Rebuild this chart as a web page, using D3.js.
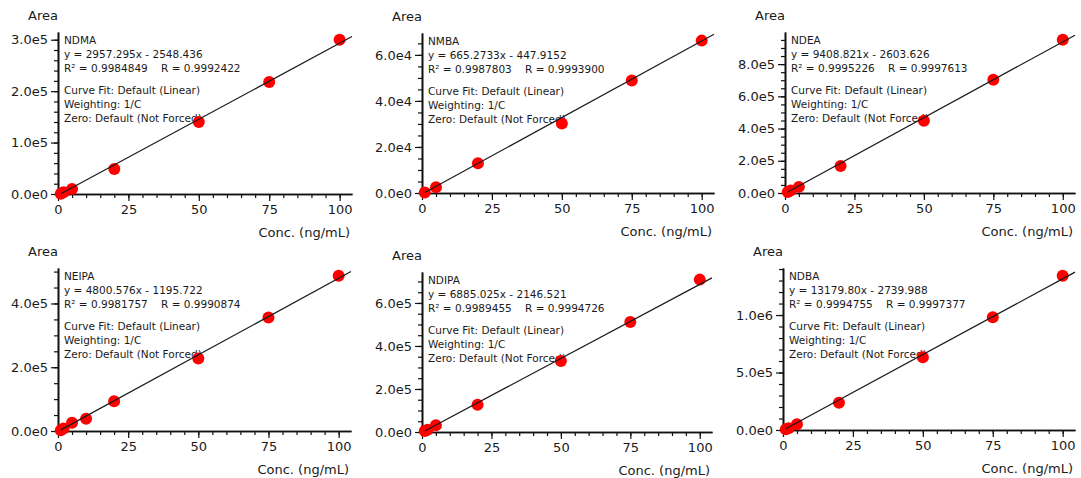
<!DOCTYPE html>
<html>
<head>
<meta charset="utf-8">
<script src="https://cdn.jsdelivr.net/npm/d3@7"></script>
<style>
  body { margin: 0; background: #fff; }
  text { font-family: "DejaVu Sans", sans-serif; fill: #1a1a1a; }
</style>
</head>
<body>
<script>
// calibration data, one entry per compound
const compounds = ["NDMA", "NMBA", "NDEA", "NEIPA", "NDIPA", "NDBA"]
const slopes = ["2957.295", "665.2733", "9408.821", "4800.576", "6885.025", "13179.80"]
const intercepts = ["2548.436", "447.9152", "2603.626", "1195.722", "2146.521", "2739.988"]
const r2s = ["0.9984849", "0.9987803", "0.9995226", "0.9981757", "0.9989455", "0.9994755"]
const rs = ["0.9992422", "0.9993900", "0.9997613", "0.9990874", "0.9994726", "0.9997377"]

const concs = [
  [1, 2, 5, 20, 50, 75, 100],
  [1, 5, 20, 50, 75, 100],
  [1, 2, 5, 20, 50, 75, 100],
  [1, 2, 5, 10, 20, 50, 75, 100],
  [1, 2, 5, 20, 50, 75, 100],
  [1, 2, 5, 20, 50, 75, 100]
]
const areas = [
  [650, 3300, 9700, 48600, 140000, 217700, 300000],
  [250, 2450, 12950, 30200, 48900, 66200],
  [6500, 16000, 38000, 168300, 448800, 702300, 951700],
  [2500, 7500, 26200, 38700, 93200, 227200, 356000, 486900],
  [4650, 10850, 31000, 127100, 330200, 511600, 708500],
  [5800, 14500, 49300, 237700, 631900, 979700, 1342000]
]

const xTicks = [0, 25, 50, 75, 100]
const xMinorStep = 5
const yTicks = [
  [0, 1e5, 2e5, 3e5],
  [0, 2e4, 4e4, 6e4],
  [0, 2e5, 4e5, 6e5, 8e5],
  [0, 2e5, 4e5],
  [0, 2e5, 4e5, 6e5],
  [0, 5e5, 1e6]
]
const yMinorSteps = [2e4, 5e3, 5e4, 5e4, 5e4, 1e5]
const infoLines = ["Curve Fit: Default (Linear)", "Weighting: 1/C", "Zero: Default (Not Forced)"]

// plot boxes in page pixels
const boxes = [
  { l: 58, t: 32, r: 352, b: 194 },
  { l: 422, t: 33, r: 714, b: 193 },
  { l: 785, t: 32, r: 1075, b: 193 },
  { l: 58, t: 268, r: 351, b: 431 },
  { l: 422, t: 272, r: 712, b: 432 },
  { l: 783, t: 268, r: 1075, b: 430 }
]
const xMax = 104.4

const fmt = v => d3.format(".1e")(v).replace("+", "")

const svg = d3.select("body").append("svg")
  .attr("width", 1081)
  .attr("height", 478)

compounds.forEach((name, i) => {
  const box = boxes[i]
  const x = d3.scaleLinear().domain([0, xMax]).range([box.l, box.r])
  const y = d3.scaleLinear().domain([0, d3.max(areas[i]) * 1.05]).range([box.b, box.t])
  const g = svg.append("g")

  // minor ticks
  const xMinor = d3.range(0, 100 + 0.1, xMinorStep)
  const yMinor = d3.range(0, y.domain()[1], yMinorSteps[i])
  g.append("g").attr("transform", `translate(0,${box.b})`)
    .call(d3.axisBottom(x).tickValues(xMinor).tickSize(4).tickFormat("").tickSizeOuter(0))
  g.append("g").attr("transform", `translate(${box.l},0)`)
    .call(d3.axisLeft(y).tickValues(yMinor).tickSize(4).tickFormat("").tickSizeOuter(0))

  // major ticks
  g.append("g").attr("transform", `translate(0,${box.b})`)
    .call(d3.axisBottom(x).tickValues(xTicks).tickSize(7).tickSizeOuter(0).tickPadding(4))
  g.append("g").attr("transform", `translate(${box.l},0)`)
    .call(d3.axisLeft(y).tickValues(yTicks[i]).tickFormat(fmt).tickSize(7).tickSizeOuter(0).tickPadding(3))

  g.selectAll(".domain").attr("stroke", "#111").attr("stroke-width", 1.6)
  g.selectAll(".tick line").attr("stroke", "#111").attr("stroke-width", 1.2)
  g.selectAll(".tick text").attr("font-size", 13).attr("font-family", "DejaVu Sans").attr("fill", "#1a1a1a")

  // axis titles
  g.append("text").attr("x", box.l).attr("y", box.t - 12)
    .attr("text-anchor", "end").attr("font-size", 13).text("Area")
  g.append("text").attr("x", box.r - 2).attr("y", box.b + 43)
    .attr("text-anchor", "end").attr("font-size", 13).text("Conc. (ng/mL)")

  // annotation
  const tx = box.l + 6
  const ann = g.append("g").attr("font-size", 10.5)
  ann.append("text").attr("x", tx).attr("y", box.t + 12).text(name)
  ann.append("text").attr("x", tx).attr("y", box.t + 26)
    .text(`y = ${slopes[i]}x - ${intercepts[i]}`)
  const rt = ann.append("text").attr("y", box.t + 40)
  rt.append("tspan").attr("x", tx).text(`R² = ${r2s[i]}`)
  rt.append("tspan").attr("x", tx + 97).text(`R = ${rs[i]}`)
  ann.selectAll(null).data(infoLines).join("text")
    .attr("x", tx).attr("y", (d, k) => box.t + 62 + k * 14)
    .text(d => d)

  // points
  const pts = concs[i].map((c, k) => [c, areas[i][k]])
  g.selectAll("circle").data(pts).join("circle")
    .attr("cx", d => x(d[0])).attr("cy", d => y(d[1]))
    .attr("r", 6).attr("fill", "#ff0000")

  // regression line from the displayed equation
  const m = +slopes[i], c0 = -intercepts[i]
  const x0 = d3.min(concs[i])
  g.append("line")
    .attr("x1", x(x0)).attr("y1", y(m * x0 + c0))
    .attr("x2", x(xMax)).attr("y2", y(m * xMax + c0))
    .attr("stroke", "#1a1a1a").attr("stroke-width", 1.2)
})
</script>
</body>
</html>
